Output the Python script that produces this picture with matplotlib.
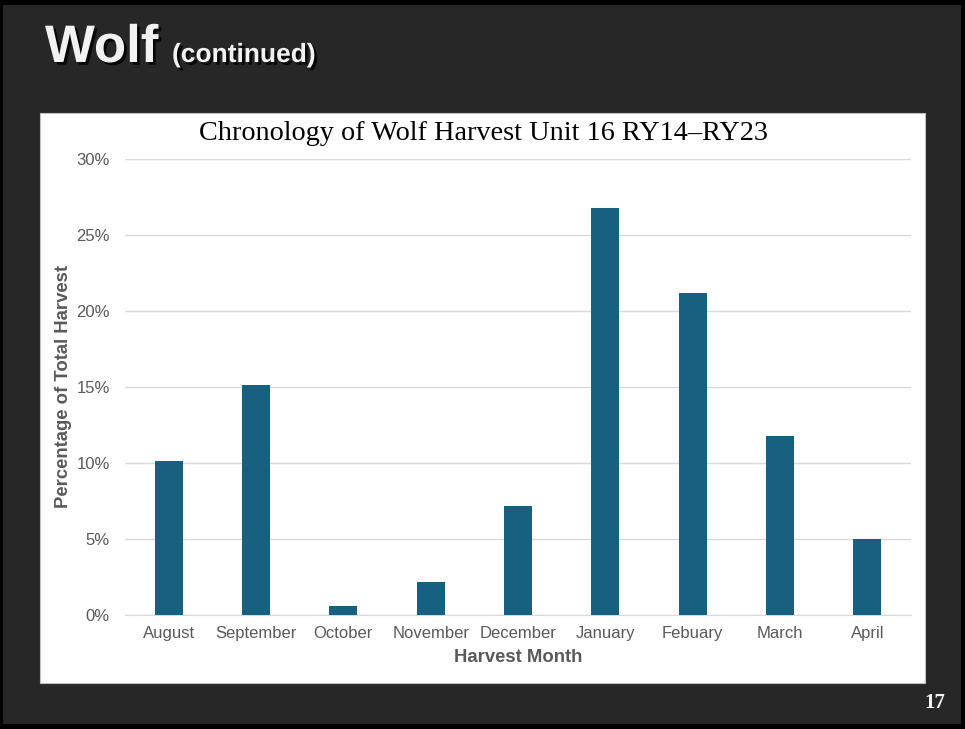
import matplotlib
matplotlib.use("Agg")
import matplotlib.pyplot as plt
from matplotlib.patches import Rectangle
from matplotlib.ticker import FuncFormatter
import matplotlib.patheffects as pe

months = ["August", "September", "October", "November", "December",
          "January", "Febuary", "March", "April"]
percent = [10.1, 15.1, 0.6, 2.2, 7.2, 26.8, 21.2, 11.8, 5.0]
y_ticks = [0, 5, 10, 15, 20, 25, 30]

W, H = 965, 729
fig = plt.figure(figsize=(W / 100, H / 100), dpi=100)
fig.patch.set_facecolor("#000000")

# slide background
fig.patches.append(Rectangle((3 / W, 5 / H), 958 / W, 719 / H,
                             transform=fig.transFigure, facecolor="#272727",
                             edgecolor="none", zorder=0))
# white chart panel
fig.patches.append(Rectangle((40 / W, 1 - 683 / H), 885 / W, 570 / H,
                             transform=fig.transFigure, facecolor="white",
                             edgecolor="#bfbfbf", linewidth=0.8, zorder=1))

# slide title
shadow = [pe.withSimplePatchShadow(offset=(2, -2), shadow_rgbFace="#000000", alpha=0.8)]
fig.text(45 / W, 1 - 48 / H, "Wolf", color="#f2f2f2", fontsize=38, fontweight="bold",
         family="Liberation Sans", va="center", ha="left", path_effects=shadow)
fig.text(172 / W, 1 - 55 / H, "(continued)", color="#f2f2f2", fontsize=19,
         fontweight="bold", family="Liberation Sans", va="center", ha="left",
         path_effects=shadow)
fig.text(935 / W, 1 - 703 / H, "17", color="#f2f2f2", fontsize=15, fontweight="bold",
         family="Liberation Serif", va="center", ha="center")

ax = fig.add_axes([125 / W, 1 - 615 / H, 786 / W, 456 / H])
ax.set_facecolor("none")
ax.set_zorder(2)

x = range(len(months))
ax.bar(x, percent, width=0.32, color="#17607f", zorder=3)

ax.set_xlim(-0.5, len(months) - 0.5)
ax.set_ylim(0, 30)
ax.set_yticks(y_ticks)
ax.yaxis.set_major_formatter(FuncFormatter(lambda v, p: f"{v:.0f}%"))
ax.set_xticks(list(x))
ax.set_xticklabels(months)
ax.grid(axis="y", color="#d9d9d9", linewidth=1, zorder=0)
for s in ["top", "right", "left"]:
    ax.spines[s].set_visible(False)
ax.spines["bottom"].set_color("#d9d9d9")
ax.tick_params(axis="x", length=0, labelsize=12, labelcolor="#595959", pad=8)
ax.tick_params(axis="y", length=0, labelsize=12, labelcolor="#595959", pad=11)
for lbl in ax.get_xticklabels() + ax.get_yticklabels():
    lbl.set_family("Liberation Sans")

ax.set_xlabel("Harvest Month", fontsize=13.3, fontweight="bold", color="#595959",
              family="Liberation Sans")
ax.set_ylabel("Percentage of Total Harvest", fontsize=13.3, fontweight="bold",
              color="#595959", family="Liberation Sans")
ax.xaxis.set_label_coords(0.5, -43 / 456)
ax.xaxis.label.set_va("center")
ax.yaxis.set_label_coords(-61 / 786, 0.5)
ax.yaxis.label.set_va("center")

fig.text(484 / W, 1 - 134 / H, "Chronology of Wolf Harvest Unit 16 RY14\u2013RY23",
         fontsize=20.3, family="Liberation Serif", color="black", ha="center",
         va="center", zorder=5)

fig.savefig("out.png", dpi=100, facecolor=fig.get_facecolor())
